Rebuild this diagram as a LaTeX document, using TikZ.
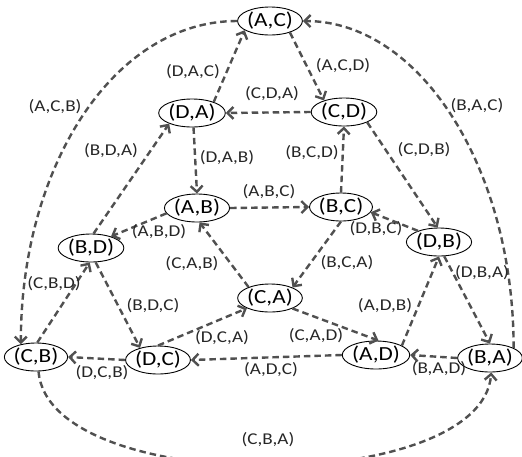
\documentclass[tikz,border=0pt]{standalone}
\usepackage{fontspec}
\setmainfont{Carlito}[FakeStretch=1.16]
\usetikzlibrary{shapes.geometric,arrows.meta}
\definecolor{edgegray}{HTML}{505050}
\begin{document}
\begin{tikzpicture}[x=1pt,y=-1pt,
  st/.style={ellipse,draw=black,line width=0.9pt,minimum width=60pt,minimum height=28pt,inner sep=0pt,font=\fontsize{20}{20}\selectfont},
  lab/.style={inner sep=0pt,font=\fontsize{16.5}{16.5}\selectfont,text=black!85},
  ed/.style={draw=edgegray,line width=2.4pt,dash pattern=on 6.5pt off 4pt,-{Straight Barb[length=6pt,width=12pt]}}]
\useasboundingbox (0,0) rectangle (522,456);
\clip (0,0) rectangle (522,456);
% nodes
\node[st] (AC) at (270,21) {(A,C)};
\node[st] (DA) at (192,113) {(D,A)};
\node[st] (CD) at (344,112) {(C,D)};
\node[st] (AB) at (197,208) {(A,B)};
\node[st] (BC) at (341,207) {(B,C)};
\node[st] (DB) at (439,242) {(D,B)};
\node[st] (BD) at (91,248) {(B,D)};
\node[st] (CA) at (270,298) {(C,A)};
\node[st] (CB) at (36,357) {(C,B)};
\node[st] (DC) at (158,360) {(D,C)};
\node[st] (AD) at (376,355) {(A,D)};
\node[st] (BA) at (490,358) {(B,A)};
% edges
\draw[ed] (DA.27) -- (AC.200);
\draw[ed] (AC.-30) -- (CD.150);
\draw[ed] (CD.180) -- (DA.0);
\draw[ed] (DA.-84) -- (AB.90);
\draw[ed] (BC.90) -- (CD.-90);
\draw[ed] (CD.-24) -- (DB.95);
\draw[ed] (AB.0) -- (BC.180);
\draw[ed] (BD.80) -- (DA.205);
\draw[ed] (AB.190) -- (BD.30);
\draw[ed] (CA.153) -- (AB.-80);
\draw[ed] (BC.-90) -- (CA.25);
\draw[ed] (DB.152) -- (BC.-10);
\draw[ed] (BD.-72) -- (DC.146);
\draw[ed] (CB.85) -- (BD.-95);
\draw[ed] (DC.90) -- (CA.204);
\draw[ed] (CA.-25) -- (AD.80);
\draw[ed] (AD.20) -- (DB.-90);
\draw[ed] (DB.-70) -- (BA.90);
\draw[ed] (AD.180) -- (DC.0);
\draw[ed] (DC.180) -- (CB.0);
\draw[ed] (BA.180) -- (AD.0);
\draw[ed] (AC.180) .. controls +(-124,0) and +(0,-177) .. (CB.140);
\draw[ed] (BA.23) .. controls +(0,-180) and +(117,0) .. (AC.0);
\draw[ed] (CB.-80) .. controls +(10,126) and +(-10,124) .. (BA.-85);
% labels
\node[lab] (l1) at (193,72) {(D,A,C)};
\node[lab] (l2) at (343,66) {(A,C,D)};
\node[lab] (l3) at (272,94) {(C,D,A)};
\node[lab] (l4) at (227,158) {(D,A,B)};
\node[lab] (l5) at (312,153) {(B,C,D)};
\node[lab] (l6) at (424,150) {(C,D,B)};
\node[lab] (l7) at (269,192) {(A,B,C)};
\node[lab] (l8) at (111,151) {(B,D,A)};
\node[lab] (l9) at (55,107) {(A,C,B)};
\node[lab] (l10) at (477,106) {(B,A,C)};
\node[lab] (l11) at (159,232) {(A,B,D)};
\node[lab] (l12) at (192,264) {(C,A,B)};
\node[lab] (l13) at (347,263) {(B,C,A)};
\node[lab] (l14) at (376,229) {(D,B,C)};
\node[lab] (l15) at (153,306) {(B,D,C)};
\node[lab] (l16) at (54,284) {(C,B,D)};
\node[lab] (l17) at (222,338) {(D,C,A)};
\node[lab] (l18) at (316,336) {(C,A,D)};
\node[lab] (l19) at (385,306) {(A,D,B)};
\node[lab] (l20) at (482,273) {(D,B,A)};
\node[lab] (l21) at (271,370) {(A,D,C)};
\node[lab] (l22) at (102,373) {(D,C,B)};
\node[lab] (l23) at (439,369) {(B,A,D)};
\node[lab] (l24) at (268,440) {(C,B,A)};
\end{tikzpicture}
\end{document}
